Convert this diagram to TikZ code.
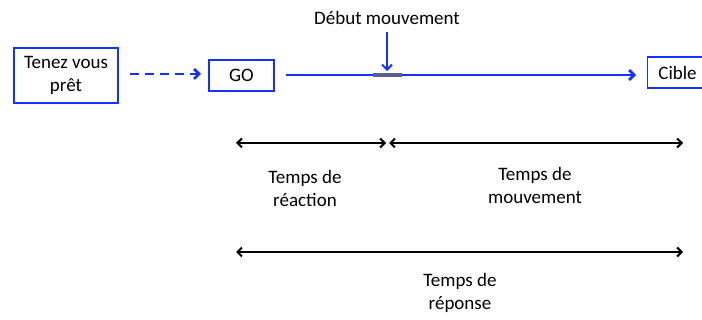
\documentclass[tikz,border=0pt]{standalone}
\usepackage{fontspec}
\setmainfont{Carlito}
\usetikzlibrary{arrows.meta}
\definecolor{myblue}{RGB}{20,50,250}
\definecolor{segray}{RGB}{85,100,140}
\begin{document}
\begin{tikzpicture}[x=1pt,y=-1pt,
  bbox/.style={draw=myblue,line width=1.1pt,inner sep=0pt,align=center,font=\fontsize{19}{23}\selectfont},
  lbl/.style={align=center,font=\fontsize{19}{23}\selectfont,inner sep=0pt},
  barrow/.style={myblue,line width=2.8pt,-{Straight Barb[length=5pt,width=10pt]}},
  karrow/.style={black,line width=2pt,{Straight Barb[length=4.5pt,width=9pt]}-{Straight Barb[length=4.5pt,width=9pt]}}]
\useasboundingbox (0,0) rectangle (702,320);
\node[bbox,minimum width=104pt,minimum height=55pt] (tv) at (66,75.5) {Tenez vous\\prêt};
\node[bbox,minimum width=65pt,minimum height=31pt] (go) at (241.5,75.5) {GO};
\node[bbox,minimum width=60pt,minimum height=31pt,anchor=west] (ci) at (647,72.5) {Cible};
\coordinate (d1) at (130,74);
\coordinate (d2) at (201,74);
\draw[barrow,dash pattern=on 9pt off 6pt] (d1) -- (d2);
\coordinate (l1) at (286,75);
\coordinate (l2) at (636,75);
\draw[barrow] (l1) -- (l2);
\coordinate (g1) at (373,75);
\coordinate (g2) at (402,75);
\draw[segray,line width=3.2pt] (g1) -- (g2);
\node[lbl] (deb) at (387,18) {Début mouvement};
\coordinate (m1) at (387,32);
\coordinate (m2) at (387,71);
\draw[myblue,line width=2pt,-{Straight Barb[length=5pt,width=10pt]}] (m1) -- (m2);
\coordinate (a1) at (236,143);
\coordinate (a2) at (386,143);
\coordinate (a3) at (389,143);
\coordinate (a4) at (683,143);
\draw[karrow] (a1) -- (a2);
\draw[karrow] (a3) -- (a4);
\coordinate (b1) at (236,252);
\coordinate (b2) at (683,252);
\draw[karrow] (b1) -- (b2);
\node[lbl] (tr) at (305,188) {Temps de\\réaction};
\node[lbl] (tm) at (535,185) {Temps de\\mouvement};
\node[lbl] (tp) at (460,293) {Temps de\\réponse};
\end{tikzpicture}
\end{document}
